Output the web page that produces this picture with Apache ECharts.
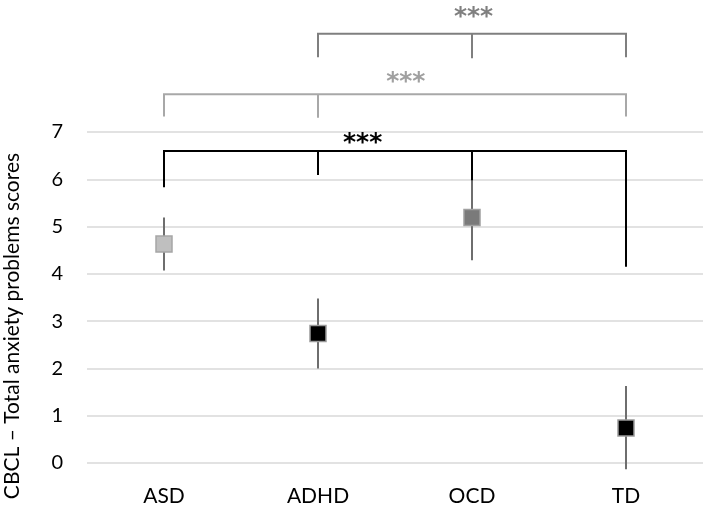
<!DOCTYPE html>
<html><head><meta charset="utf-8">
<script src="https://cdn.jsdelivr.net/npm/echarts@6/dist/echarts.min.js"></script>
<style>html,body{margin:0;padding:0;background:#fff}#c{width:709px;height:510px}</style>
</head><body><div id="c"></div>
<script>
const categories = ['ASD', 'ADHD', 'OCD', 'TD'];
const means = [4.63, 2.74, 5.19, 0.74];
const lowerCI = [4.07, 2.00, 4.29, -0.13];
const upperCI = [5.19, 3.48, 6.09, 1.63];
const yTicks = [0, 1, 2, 3, 4, 5, 6, 7];

// significance brackets (level and leg ends per category, null = no leg)
const bracketLevels = [6.6, 7.8, 9.08];
const legsBlack = [5.83, 6.09, 5.98, 4.15];
const legsGray = [7.33, 7.30, null, 7.33];
const legsDark = [null, 8.58, 8.56, 8.58];
const starLabels = ['***', '***', '***'];
const starPos = [1.29, 1.57, 2.01];
const starLevels = [6.89, 8.18, 9.55];

const markerColors = ['#bfbfbf', '#000000', '#7a7a7a', '#000000'];
const markerBorders = ['#a6a6a6', '#9a9a9a', '#a0a0a0', '#9a9a9a'];
const bracketColors = ['#000000', '#a8a8a8', '#7f7f7f'];
const starColors = ['#000000', '#a0a0a0', '#808080'];

const chart = echarts.init(document.getElementById('c'));
const FONT = 'Lato';

function bracketSeries(k, legs) {
  return {
    type: 'custom', clip: false, silent: true, z: 5,
    data: [[0]],
    renderItem: function (params, api) {
      const children = [];
      const idx = legs.map((v, i) => v == null ? null : i).filter(v => v != null);
      const p0 = api.coord([idx[0], bracketLevels[k]]);
      const p1 = api.coord([idx[idx.length - 1], bracketLevels[k]]);
      const style = { stroke: bracketColors[k], lineWidth: 2, fill: null };
      children.push({ type: 'line', shape: { x1: p0[0] - 1, y1: p0[1], x2: p1[0] + 1, y2: p1[1] }, style: style });
      legs.forEach(function (v, i) {
        if (v == null) return;
        const a = api.coord([i, bracketLevels[k]]);
        const b = api.coord([i, v]);
        children.push({ type: 'line', shape: { x1: a[0], y1: a[1], x2: b[0], y2: b[1] }, style: style });
      });
      const f = starPos[k];
      const i0 = Math.floor(f), i1 = Math.min(i0 + 1, categories.length - 1);
      const c0 = api.coord([i0, starLevels[k]]), c1 = api.coord([i1, starLevels[k]]);
      const sx = c0[0] + (c1[0] - c0[0]) * (f - i0);
      children.push({ type: 'text', style: { x: sx, y: c0[1] + 6, text: starLabels[k], fill: starColors[k],
        font: 'bold 25px "DejaVu Sans"', align: 'center', verticalAlign: 'middle' } });
      return { type: 'group', children: children };
    }
  };
}

chart.setOption({
  animation: false,
  backgroundColor: '#ffffff',
  grid: { left: 87, right: 6, top: 132, bottom: 47 },
  xAxis: {
    type: 'category', data: categories,
    axisLine: { show: false }, axisTick: { show: false },
    axisLabel: { color: '#000', fontSize: 21, fontFamily: FONT, margin: 23 }
  },
  yAxis: {
    type: 'value', min: 0, max: 7, interval: 1,
    axisLine: { show: false }, axisTick: { show: false },
    axisLabel: { color: '#000', fontSize: 20, fontFamily: FONT, margin: 24,
      formatter: function (v) { return yTicks.indexOf(v) >= 0 ? String(v) : ''; } },
    splitLine: { lineStyle: { color: '#d9d9d9', width: 1.5 } }
  },
  graphic: [{
    type: 'text', x: 12, y: 326, rotation: Math.PI / 2,
    style: { text: 'CBCL – Total anxiety problems scores', fill: '#000', font: '21px ' + FONT,
      align: 'center', verticalAlign: 'middle' }
  }],
  series: [
    {
      type: 'custom', clip: false, z: 2,
      data: categories.map((c, i) => [i, lowerCI[i], upperCI[i]]),
      renderItem: function (params, api) {
        const a = api.coord([api.value(0), api.value(1)]);
        const b = api.coord([api.value(0), api.value(2)]);
        return { type: 'line', shape: { x1: a[0], y1: a[1], x2: b[0], y2: b[1] },
          style: { stroke: '#6e6e6e', lineWidth: 2 } };
      }
    },
    {
      type: 'scatter', z: 3, symbol: 'rect', symbolSize: 16,
      data: means.map((m, i) => ({ value: [i, m], itemStyle: { color: markerColors[i], borderColor: markerBorders[i], borderWidth: 1.5, opacity: 1 } }))
    },
    bracketSeries(0, legsBlack),
    bracketSeries(1, legsGray),
    bracketSeries(2, legsDark)
  ]
});
</script></body></html>
